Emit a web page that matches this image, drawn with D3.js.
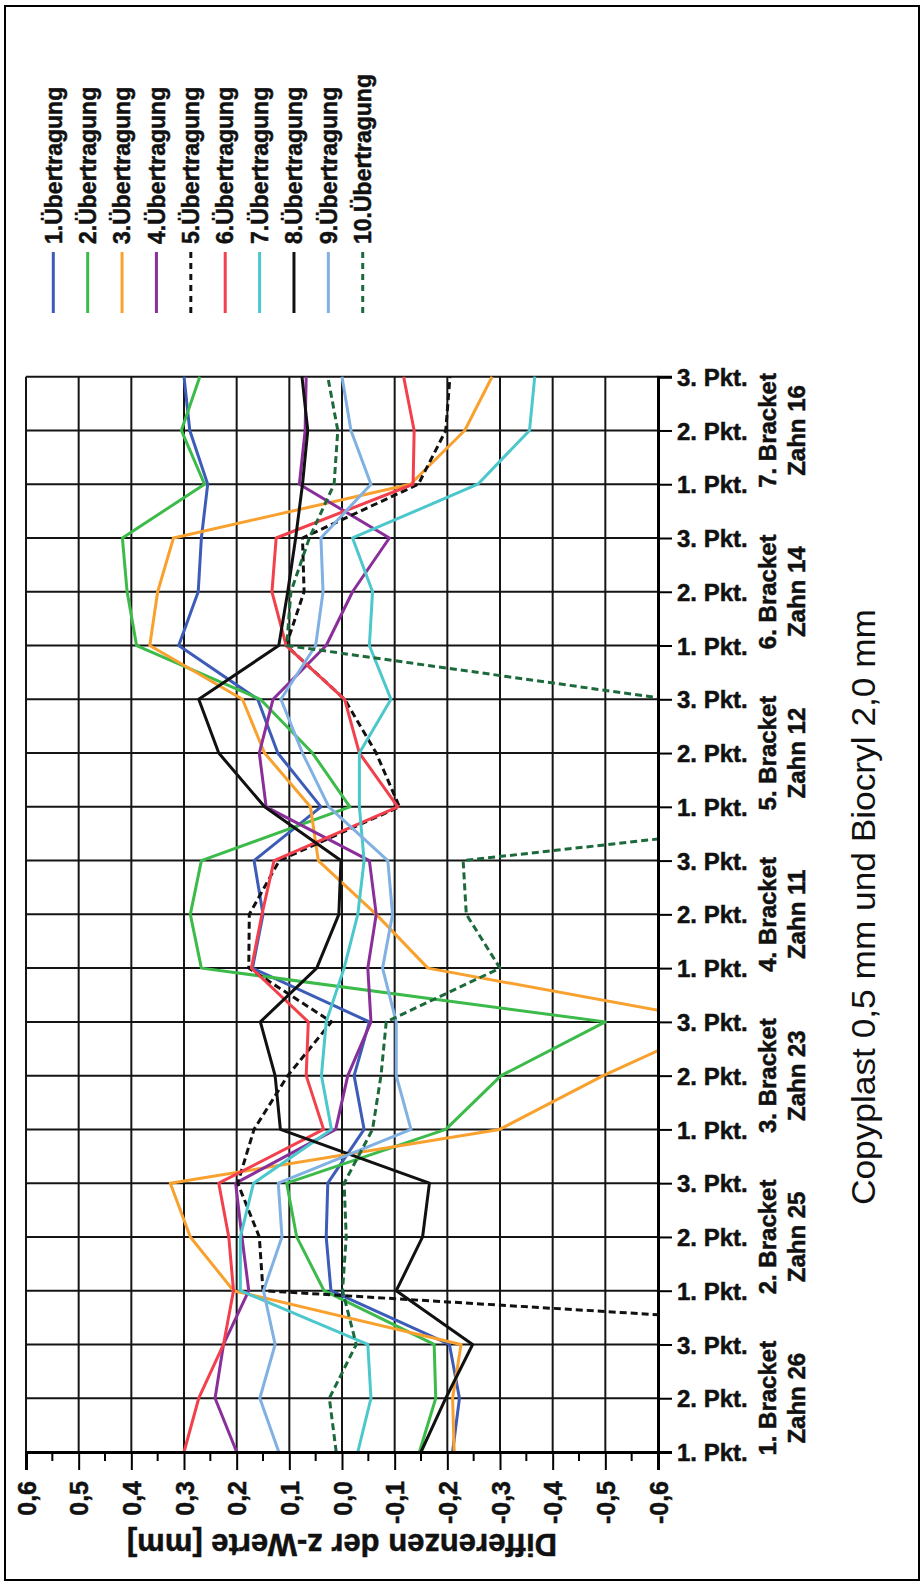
<!DOCTYPE html>
<html>
<head>
<meta charset="utf-8">
<script src="https://cdn.jsdelivr.net/npm/d3@7"></script>
<style>
  html, body { margin: 0; padding: 0; background: #fff; }
  svg { display: block; }
  text { font-family: "Liberation Sans", Arial, sans-serif; fill: #111; }
  .heavy { stroke: #111; stroke-width: 0.5px; }
</style>
</head>
<body>
<svg id="chart" width="923" height="1583"></svg>
<script>
// Measuring points, three per bracket, from Zahn 26 up to Zahn 16
const brackets = ["1. Bracket", "2. Bracket", "3. Bracket", "4. Bracket", "5. Bracket", "6. Bracket", "7. Bracket"];
const teeth = ["Zahn 26", "Zahn 25", "Zahn 23", "Zahn 11", "Zahn 12", "Zahn 14", "Zahn 16"];
const points = ["1. Pkt.", "2. Pkt.", "3. Pkt."];

// Value axis ticks (mm)
const valueTicks = [0.6, 0.5, 0.4, 0.3, 0.2, 0.1, 0.0, -0.1, -0.2, -0.3, -0.4, -0.5, -0.6];
const valueTickLabels = ["0,6", "0,5", "0,4", "0,3", "0,2", "0,1", "0,0", "-0,1", "-0,2", "-0,3", "-0,4", "-0,5", "-0,6"];
const minorTicks = [0.55, 0.45, 0.35, 0.25, 0.15, 0.05, -0.05, -0.15, -0.25, -0.35, -0.45, -0.55];

// Differences of the z values per transfer (1. Pkt. Zahn 26 ... 3. Pkt. Zahn 16)
const uebertragung1 = [-0.21, -0.223, -0.204, 0.021, 0.03, 0.027, -0.042, -0.023, -0.052, 0.17, 0.15, 0.167, 0.04, 0.122, 0.16, 0.31, 0.273, 0.267, 0.255, 0.289, 0.30];
const uebertragung2 = [-0.147, -0.178, -0.175, 0.034, 0.086, 0.105, -0.197, -0.302, -0.50, 0.267, 0.288, 0.267, -0.015, 0.056, 0.155, 0.39, 0.408, 0.417, 0.261, 0.305, 0.27];
const uebertragung3 = [-0.213, -0.21, -0.226, 0.206, 0.288, 0.326, -0.299, -0.496, -0.72, -0.163, -0.065, 0.045, 0.06, 0.147, 0.189, 0.365, 0.35, 0.32, -0.13, -0.233, -0.285];
const uebertragung4 = [0.2, 0.241, 0.225, 0.177, 0.19, 0.202, 0.012, -0.011, -0.055, -0.049, -0.065, -0.052, 0.144, 0.157, 0.131, 0.03, -0.02, -0.09, 0.081, 0.07, 0.068];
const uebertragung5 = [-1.45, -1.5, -1.53, 0.15, 0.157, 0.198, 0.167, 0.103, 0.02, 0.177, 0.176, 0.119, -0.109, -0.065, -0.005, 0.106, 0.072, 0.075, -0.145, -0.197, -0.205];
const uebertragung6 = [0.3, 0.272, 0.225, 0.206, 0.215, 0.234, 0.035, 0.068, 0.064, 0.172, 0.152, 0.129, -0.106, -0.033, -0.005, 0.106, 0.133, 0.125, -0.135, -0.137, -0.117];
const uebertragung7 = [-0.03, -0.055, -0.049, 0.193, 0.193, 0.168, 0.02, 0.039, 0.03, -0.004, -0.03, -0.042, -0.033, -0.033, -0.093, -0.052, -0.058, -0.02, -0.258, -0.356, -0.366];
const uebertragung8 = [-0.15, -0.197, -0.248, -0.103, -0.153, -0.166, 0.117, 0.127, 0.155, 0.048, 0.006, 0.002, 0.147, 0.234, 0.272, 0.12, 0.103, 0.088, 0.075, 0.065, 0.076];
const uebertragung9 = [0.12, 0.156, 0.127, 0.149, 0.114, 0.121, -0.131, -0.103, -0.103, -0.077, -0.096, -0.087, 0.025, 0.075, 0.116, 0.05, 0.036, 0.04, -0.055, -0.017, 0.0];
const uebertragung10 = [0.011, 0.024, -0.027, -0.001, -0.008, -0.004, -0.058, -0.074, -0.084, -0.3, -0.236, -0.23, -1.15, -1.0, -0.62, 0.105, 0.097, 0.062, 0.015, 0.008, 0.027];

const seriesNames = ["1.Übertragung", "2.Übertragung", "3.Übertragung", "4.Übertragung", "5.Übertragung",
                     "6.Übertragung", "7.Übertragung", "8.Übertragung", "9.Übertragung", "10.Übertragung"];
const seriesValues = [uebertragung1, uebertragung2, uebertragung3, uebertragung4, uebertragung5,
                      uebertragung6, uebertragung7, uebertragung8, uebertragung9, uebertragung10];
const seriesColors = ["#3c5cb8", "#3cbb4a", "#f9a12e", "#8a2f9a", "#111111",
                      "#f2404c", "#4cc7cc", "#111111", "#80b1e2", "#1c6a3c"];
const seriesDashed = [false, false, false, false, true, false, false, false, false, true];

const chartTitle = "Copyplast 0,5 mm und Biocryl 2,0 mm";
const axisTitle = "Differenzen der z-Werte [mm]";

// category keys in drawing order (bottom to top)
const categories = [];
brackets.forEach((b, bi) => points.forEach(p => categories.push(bi + "|" + p)));

const svg = d3.select("#chart");
svg.append("rect").attr("width", 923).attr("height", 1583).attr("fill", "#fff");
svg.append("rect").attr("x", 5).attr("y", 6).attr("width", 914).attr("height", 1574)
  .attr("fill", "none").attr("stroke", "#000").attr("stroke-width", 2);

const plot = { left: 26, right: 658, top: 376.7, bottom: 1452 };
const x = d3.scaleLinear().domain([0.6, -0.6]).range([plot.left, plot.right]);
const y = d3.scalePoint().domain(categories).range([plot.bottom, plot.top]);

// grid
const grid = svg.append("g").attr("stroke", "#151515").attr("stroke-width", 2);
grid.selectAll("line.v").data(valueTicks).join("line").attr("class", "v")
  .attr("x1", d => x(d)).attr("x2", d => x(d))
  .attr("y1", plot.top).attr("y2", plot.bottom);
grid.selectAll("line.h").data(categories).join("line").attr("class", "h")
  .attr("x1", plot.left).attr("x2", plot.right)
  .attr("y1", d => y(d)).attr("y2", d => y(d));

// series
svg.append("clipPath").attr("id", "plotClip").append("rect")
  .attr("x", plot.left).attr("y", plot.top - 2)
  .attr("width", plot.right - plot.left).attr("height", plot.bottom - plot.top + 4);

const line = d3.line().x(d => x(d.v)).y(d => y(d.c));
const lines = svg.append("g").attr("clip-path", "url(#plotClip)");
seriesValues.forEach((vals, si) => {
  lines.append("path")
    .datum(vals.map((v, i) => ({ c: categories[i], v })))
    .attr("d", line)
    .attr("fill", "none")
    .attr("stroke", seriesColors[si])
    .attr("stroke-width", 3)
    .attr("stroke-linejoin", "round")
    .attr("stroke-dasharray", seriesDashed[si] ? "7,4" : null);
});

// value axis (bottom)
const valueAxis = svg.append("g").attr("transform", `translate(0,${plot.bottom})`)
  .call(d3.axisBottom(x).tickValues(valueTicks).tickSize(18)
    .tickFormat((d, i) => valueTickLabels[i]));
valueAxis.select(".domain").attr("stroke", "#000").attr("stroke-width", 3);
valueAxis.selectAll(".tick line").attr("stroke", "#000").attr("stroke-width", 2);
valueAxis.selectAll(".tick text")
  .attr("class", "heavy")
  .attr("transform", "rotate(-90)")
  .attr("x", -29).attr("y", 0).attr("dy", "0.36em")
  .attr("text-anchor", "end")
  .style("font-size", "25px").style("font-weight", "bold").attr("fill", "#111");
valueAxis.selectAll("line.minor").data(minorTicks).join("line").attr("class", "minor")
  .attr("x1", d => x(d)).attr("x2", d => x(d)).attr("y1", 0).attr("y2", 9)
  .attr("stroke", "#000").attr("stroke-width", 2);

// category axis (right)
const catAxis = svg.append("g").attr("transform", `translate(${plot.right},0)`)
  .call(d3.axisRight(y).tickSize(14).tickPadding(5)
    .tickFormat((d, i) => points[i % 3]));
catAxis.select(".domain").attr("stroke", "#000").attr("stroke-width", 3);
catAxis.selectAll(".tick line").attr("stroke", "#000").attr("stroke-width", 2);
catAxis.selectAll(".tick text").attr("class", "heavy").attr("dy", "0.36em")
  .style("font-size", "24px").style("font-weight", "bold").attr("fill", "#111");

// bracket / tooth labels
const bl = svg.append("g").attr("class", "heavy").style("font-weight", "bold").style("font-size", "24px");
brackets.forEach((b, bi) => {
  const cy = y(categories[bi * 3 + 1]);
  bl.append("text").attr("transform", `translate(767,${cy}) rotate(-90)`)
    .attr("text-anchor", "middle").attr("dy", "0.36em").text(b);
  bl.append("text").attr("transform", `translate(796,${cy}) rotate(-90)`)
    .attr("text-anchor", "middle").attr("dy", "0.36em").text(teeth[bi]);
});

// axis title
svg.append("text").attr("class", "heavy")
  .attr("transform", `translate(${(plot.left + plot.right) / 2},1545) rotate(180)`)
  .attr("text-anchor", "middle").attr("dy", "0.36em")
  .style("font-size", "31px").style("font-weight", "bold").text(axisTitle);

// chart title
svg.append("text").attr("transform", "translate(863,907) rotate(-90)")
  .attr("text-anchor", "middle").attr("dy", "0.36em")
  .attr("textLength", 596).attr("lengthAdjust", "spacingAndGlyphs")
  .style("font-size", "33px").text(chartTitle);

// legend
const legend = svg.append("g");
seriesNames.forEach((name, si) => {
  const lx = 53.3 + si * 34.38;
  legend.append("line").attr("x1", lx).attr("x2", lx).attr("y1", 252).attr("y2", 313)
    .attr("stroke", seriesColors[si]).attr("stroke-width", 3)
    .attr("stroke-dasharray", seriesDashed[si] ? "6,5" : null);
  legend.append("text").attr("class", "heavy")
    .attr("transform", `translate(${lx},244) rotate(-90)`)
    .attr("text-anchor", "start").attr("dy", "0.36em")
    .style("font-size", "23px").style("font-weight", "bold").text(name);
});
</script>
</body>
</html>
